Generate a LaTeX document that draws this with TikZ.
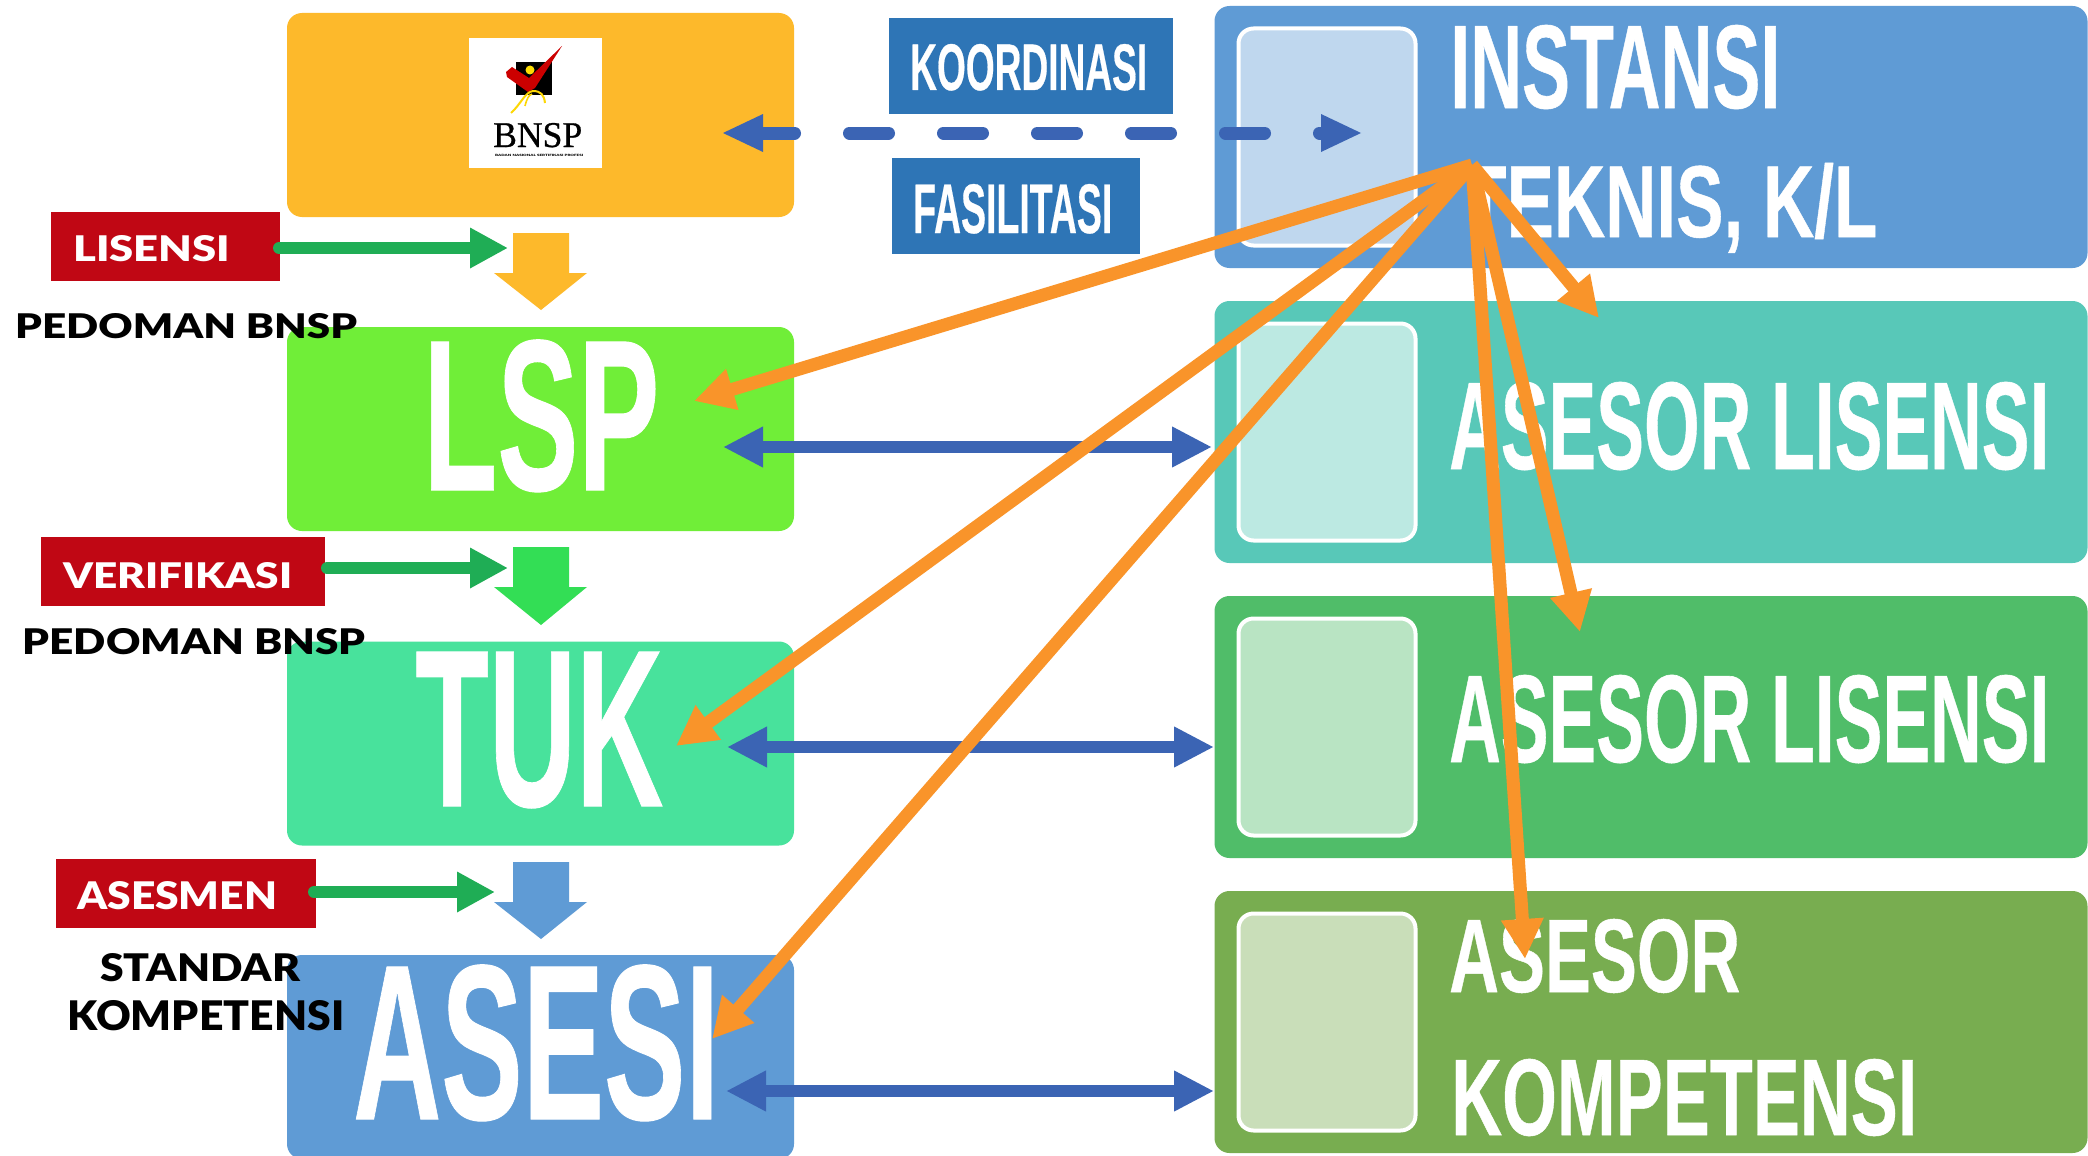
\documentclass[tikz,border=0pt]{standalone}
\usepackage{fontspec}
\usepackage{graphicx}
\usetikzlibrary{arrows.meta}
\setmainfont{Liberation Sans}
\newfontfamily\cond[FakeBold=0.5]{Liberation Sans Bold}
\newfontfamily\gill{Lato Black}
\newfontfamily\serifb[FakeBold=0.8]{Liberation Serif}
\definecolor{cyel}{HTML}{FDB92B}
\definecolor{clsp}{HTML}{70EE38}
\definecolor{ctuk}{HTML}{48E29C}
\definecolor{cblu}{HTML}{5F9BD5}
\definecolor{cr2}{HTML}{58C8B8}
\definecolor{cr3}{HTML}{50BD69}
\definecolor{cr4}{HTML}{78AD50}
\definecolor{cred}{HTML}{C00714}
\definecolor{clab}{HTML}{2E75B6}
\definecolor{carr}{HTML}{3B64B4}
\definecolor{cgrn}{HTML}{1FAD55}
\definecolor{cdgr}{HTML}{33DE55}
\definecolor{corg}{HTML}{F9942A}
\tikzset{
  box/.style={rounded corners=15pt,inner sep=0pt,minimum width=#1},
  inbox/.style={rounded corners=15pt,inner sep=0pt,fill=white,fill opacity=.6,draw=white,line width=4pt,minimum width=177pt,minimum height=217pt},
  flat/.style={inner sep=0pt},
  txt/.style={inner sep=0pt,anchor=base west,text=white},
  dtxt/.style={inner sep=0pt,anchor=base west,text=black},
  barr/.style={draw=carr,line width=12pt,{Triangle[length=40pt,width=38pt]}-{Triangle[length=40pt,width=38pt]}},
  garr/.style={draw=cgrn,line width=12pt,line cap=round,-{Triangle[length=38pt,width=38pt]}},
  oarr/.style={draw=corg,line width=13pt,-{Triangle[length=40pt,width=40pt]}}
}
\newcommand{\fitt}[4]{\resizebox{#1pt}{#2pt}{#3{}#4}}
\begin{document}
\begin{tikzpicture}[x=1pt,y=-1pt]
\useasboundingbox (0,0) rectangle (2088,1156);
\clip (0,0) rectangle (2088,1156);
\fill[white] (0,0) rectangle (2088,1156);
% left boxes
\node[box=507pt,minimum height=204pt,fill=cyel] (bnsp) at (540.5,115) {};
\node[box=507pt,minimum height=204pt,fill=clsp] (lsp) at (540.5,429) {};
\node[box=507pt,minimum height=204pt,fill=ctuk] (tuk) at (540.5,743.5) {};
\node[box=507pt,minimum height=204pt,fill=cblu] (asesi) at (540.5,1057) {};
% right boxes
\node[box=873pt,minimum height=262pt,fill=cblu] (r1) at (1651,137) {};
\node[box=873pt,minimum height=262pt,fill=cr2] (r2) at (1651,432) {};
\node[box=873pt,minimum height=262pt,fill=cr3] (r3) at (1651,727) {};
\node[box=873pt,minimum height=262pt,fill=cr4] (r4) at (1651,1022) {};
\node[inbox] (i1) at (1327,137) {};
\node[inbox] (i2) at (1327,432) {};
\node[inbox] (i3) at (1327,727) {};
\node[inbox] (i4) at (1327,1022) {};
% logo
\node[flat,fill=white,minimum width=133pt,minimum height=130pt] (logo) at (535.5,103) {};
\fill[black] (516,62) rectangle (552,95);
\fill[yellow!80!orange] (530,70) circle (4.5);
\fill[red!80!black] (506,72) -- (512,67) -- (529,78) -- (562,46) -- (535,88) -- (528,92) -- (507,77) -- cycle;
\draw[yellow!75!orange,line width=2pt] (511,113) .. controls (521,104) and (525,92) .. (533,91) .. controls (541,91) and (544,95) .. (545,103);
\draw[yellow!75!orange,line width=1.6pt] (525,106) .. controls (527,98) and (529,95) .. (532,94);
\node[dtxt] (logot) at (493,147) {\fitt{89}{24}{\serifb}{BNSP}};
\node[dtxt] (logos) at (495,156) {\fitt{88}{2.2}{\gill}{BADAN NASIONAL SERTIFIKASI PROFESI}};
% big texts
\node[txt] (tlsp) at (423,490) {\fitt{236}{150}{\cond}{LSP}};
\node[txt] (ttuk) at (415,806) {\fitt{248}{154}{\cond}{TUK}};
\node[txt] (tasesi) at (353,1119) {\fitt{366}{154}{\cond}{ASESI}};
\node[txt] (t1a) at (1450,108) {\fitt{330}{83}{\cond}{INSTANSI}};
\node[txt] (t1b) at (1463,237) {\fitt{414}{74}{\cond}{TEKNIS, K/L}};
\node[txt] (t2) at (1449,469) {\fitt{600}{87}{\cond}{ASESOR LISENSI}};
\node[txt] (t3) at (1449,762) {\fitt{600}{87}{\cond}{ASESOR LISENSI}};
\node[txt] (t4a) at (1449,992) {\fitt{291}{73}{\cond}{ASESOR}};
\node[txt] (t4b) at (1451,1135) {\fitt{466}{76}{\cond}{KOMPETENSI}};
% blue labels
\node[flat,fill=clab,minimum width=284pt,minimum height=96pt] (kor) at (1031,66) {};
\node[txt] (tkor) at (910,90) {\fitt{237}{46}{\cond}{KOORDINASI}};
\node[flat,fill=clab,minimum width=248pt,minimum height=96pt] (fas) at (1016,206) {};
\node[txt] (tfas) at (913,233) {\fitt{199}{49}{\cond}{FASILITASI}};
% red labels
\node[flat,fill=cred,minimum width=229pt,minimum height=69pt] (lis) at (165.5,246.5) {};
\node[txt] (tlis) at (73,261) {\fitt{157}{26}{\gill}{LISENSI}};
\node[flat,fill=cred,minimum width=284pt,minimum height=69pt] (ver) at (183,571.5) {};
\node[txt] (tver) at (63,588) {\fitt{229}{26}{\gill}{VERIFIKASI}};
\node[flat,fill=cred,minimum width=260pt,minimum height=69pt] (ases) at (186,893.5) {};
\node[txt] (tases) at (77,909) {\fitt{200}{28}{\gill}{ASESMEN}};
\node[dtxt] (p1) at (15,338) {\fitt{342}{25}{\gill}{PEDOMAN BNSP}};
\node[dtxt] (p2) at (22.5,654) {\fitt{343}{26}{\gill}{PEDOMAN BNSP}};
\node[dtxt] (s1) at (100,981) {\fitt{200}{28}{\gill}{STANDAR}};
\node[dtxt] (s2) at (67,1030) {\fitt{277}{30}{\gill}{KOMPETENSI}};
% block arrows
\fill[cyel] (513,233) -- (569,233) -- (569,273) -- (587,273) -- (541,310) -- (494,273) -- (513,273) -- cycle;
\fill[cdgr] (513,547) -- (569,547) -- (569,587) -- (587,587) -- (541,625) -- (494,587) -- (513,587) -- cycle;
\fill[cblu] (513,862) -- (569,862) -- (569,902) -- (587,902) -- (541,939) -- (494,902) -- (513,902) -- cycle;
% coordinates
\coordinate (da) at (763,133);
\coordinate (db) at (1321,133);
\coordinate (g1) at (279,248);
\coordinate (g1e) at (508,248);
\coordinate (g2) at (327,568);
\coordinate (g2e) at (508,568);
\coordinate (g3) at (314,892);
\coordinate (g3e) at (495,892);
\coordinate (a1) at (723,447);
\coordinate (b1) at (1212,447);
\coordinate (a2) at (727,747);
\coordinate (b2) at (1214,747);
\coordinate (a3) at (726,1091);
\coordinate (b3) at (1214,1091);
\coordinate (o) at (1472,165);
\coordinate (o1) at (694,401);
\coordinate (o2) at (676,746);
\coordinate (o3) at (712,1039);
\coordinate (o4) at (1599,318);
\coordinate (o5) at (1580,632);
\coordinate (o6) at (1525,959);
% connectors
\draw[draw=carr,line width=13pt,line cap=round,dash pattern=on 39pt off 55pt,dash phase=7.5pt] (da) -- (db);
\fill[carr] (723,133) -- (763,114) -- (763,152) -- cycle;
\fill[carr] (1361,133) -- (1321,114) -- (1321,152) -- cycle;
\draw[garr] (g1) -- (g1e);
\draw[garr] (g2) -- (g2e);
\draw[garr] (g3) -- (g3e);
\draw[barr] (a1) -- (b1);
\draw[barr] (a2) -- (b2);
\draw[barr] (a3) -- (b3);
\draw[oarr] (o) -- (o1);
\draw[oarr] (o) -- (o2);
\draw[oarr] (o) -- (o3);
\draw[oarr] (o) -- (o4);
\draw[oarr] (o) -- (o5);
\draw[oarr] (o) -- (o6);
\end{tikzpicture}
\end{document}
